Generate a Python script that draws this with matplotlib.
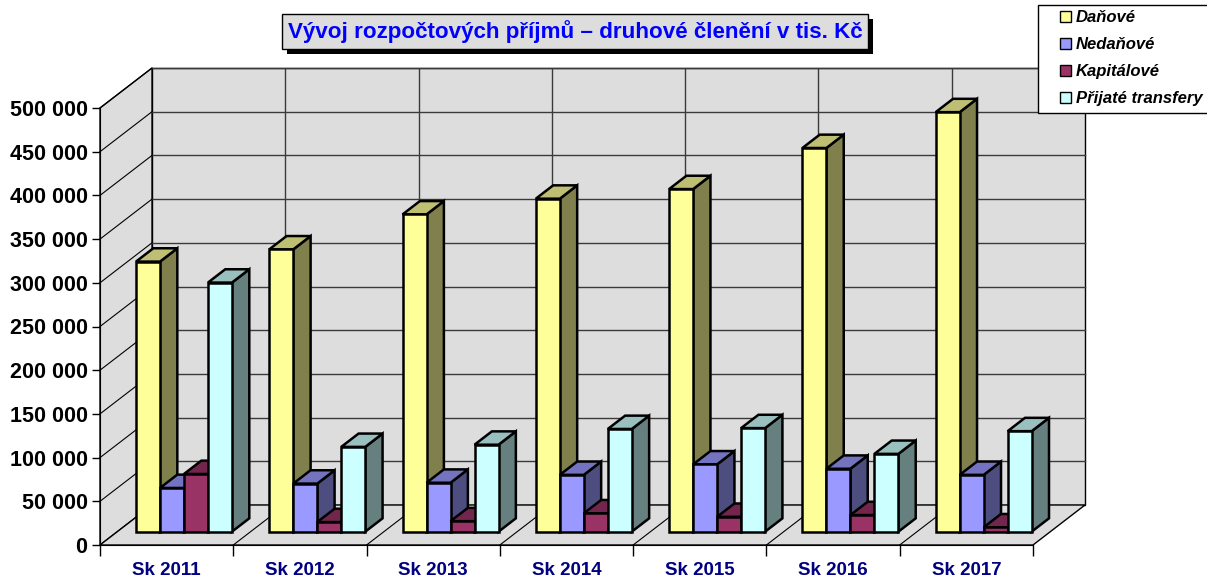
import matplotlib
matplotlib.use('Agg')
import matplotlib.pyplot as plt
from matplotlib.patches import Polygon, Patch, Rectangle
import matplotlib.patheffects as pe
import matplotlib.colors as mcolors

# ---- data ----
categories = ['Sk 2011', 'Sk 2012', 'Sk 2013', 'Sk 2014', 'Sk 2015', 'Sk 2016', 'Sk 2017']
series_names = ['Daňové', 'Nedaňové', 'Kapitálové', 'Přijaté transfery']
danove = [309000, 323000, 363000, 381000, 392000, 439000, 480000]
nedanove = [50000, 55000, 56000, 65000, 77000, 72000, 65000]
kapitalove = [66000, 11000, 12000, 21000, 17000, 19000, 5000]
transfery = [285000, 97000, 99500, 117500, 118500, 89000, 115000]
y_ticks = [0, 50000, 100000, 150000, 200000, 250000, 300000, 350000, 400000, 450000, 500000]
title = 'Vývoj rozpočtových příjmů – druhové členění v tis. Kč'

series = [danove, nedanove, kapitalove, transfery]
front_colors = ['#FFFF99', '#9999FF', '#993366', '#CCFFFF']

plt.rcParams['font.family'] = ['Liberation Sans', 'DejaVu Sans']


def shade(c, f):
    r, g, b = mcolors.to_rgb(c)
    return (r * f, g * f, b * f)


W, H = 1207, 580
fig = plt.figure(figsize=(W / 100, H / 100), dpi=100)

n = len(categories)
ymax = y_ticks[-1]
front_w_px = 933.0
front_h_px = 437.0
depth_dx_px, depth_dy_px = 52.0, 40.0
ax = fig.add_axes([100 / W, (H - 545) / H, (front_w_px + depth_dx_px) / W,
                   (front_h_px + depth_dy_px) / H])
px_per_cat = front_w_px / n
px_per_val = front_h_px / ymax
ddx = depth_dx_px / px_per_cat
ddy = depth_dy_px / px_per_val
ax.set_xlim(0, n + ddx)
ax.set_ylim(0, ymax + ddy)
ax.patch.set_visible(False)

grey = '#DDDDDD'
wall_kw = dict(fc=grey, ec='black', lw=1.0, zorder=0.5, clip_on=False)
ax.add_patch(Polygon([(ddx, ddy), (n + ddx, ddy), (n + ddx, ymax + ddy), (ddx, ymax + ddy)], **wall_kw))
ax.add_patch(Polygon([(0, 0), (ddx, ddy), (ddx, ymax + ddy), (0, ymax)], **wall_kw))
ax.add_patch(Polygon([(0, 0), (n, 0), (n + ddx, ddy), (ddx, ddy)], **wall_kw))

for v in y_ticks[1:]:
    ax.plot([ddx, n + ddx], [v + ddy, v + ddy], color='#3a3a3a', lw=1.0, zorder=0.6, clip_on=False)
    ax.plot([0, ddx], [v, v + ddy], color='black', lw=0.8, zorder=0.6, clip_on=False)
for k in range(1, n):
    ax.plot([k + ddx, k + ddx], [ddy, ymax + ddy], color='#3a3a3a', lw=1.0, zorder=0.6)
    ax.plot([k, k + ddx], [0, ddy], color='black', lw=0.8, zorder=0.6)

# ---- bars ----
group = 0.72
bw = group / len(series)
off = (1 - group) / 2
b = ddy / 3
sx, sy = ddx / 3, ddy / 3
z = 2
for i in range(n):
    for j, vals in enumerate(series):
        c = front_colors[j]
        v = vals[i]
        x0 = i + off + j * bw + sx
        ax.add_patch(Polygon([(x0 + bw, b), (x0 + bw + sx, b + sy), (x0 + bw + sx, b + v + sy), (x0 + bw, b + v)],
                             fc=shade(c, 0.5), ec='black', lw=1.8, joinstyle='miter', zorder=z))
        ax.add_patch(Polygon([(x0, b + v), (x0 + bw, b + v), (x0 + bw + sx, b + v + sy), (x0 + sx, b + v + sy)],
                             fc=shade(c, 0.75), ec='black', lw=1.8, joinstyle='miter', zorder=z + 0.1))
        ax.bar(x0, v, width=bw, bottom=b, align='edge', color=c, edgecolor='black', linewidth=1.8, zorder=z + 0.2)
        z += 1

# ---- axes ----
for s in ['top', 'right']:
    ax.spines[s].set_visible(False)
ax.spines['left'].set_bounds(0, ymax)
ax.spines['bottom'].set_bounds(0, n)
ax.spines['left'].set_zorder(1)
ax.spines['bottom'].set_zorder(1)
ax.set_yticks(y_ticks)
ax.set_yticklabels([f'{v:,}'.replace(',', ' ') for v in y_ticks], fontsize=15.5, fontweight='bold')
ax.tick_params(axis='y', direction='out', length=6, width=1, pad=3)
ax.set_xticks(range(n + 1))
ax.set_xticklabels([])
ax.tick_params(axis='x', which='major', direction='out', length=8, width=1)
ax.set_xticks([i + 0.5 for i in range(n)], minor=True)
ax.set_xticklabels(categories, minor=True, fontsize=13.5, fontweight='bold', color='#000080')
ax.tick_params(axis='x', which='minor', length=0, pad=12)

# ---- title ----
t = fig.text(575 / W, 1 - 31.5 / H, title, ha='center', va='center', fontsize=16.1, fontweight='bold',
             color='#0000FF', bbox=dict(boxstyle='square,pad=0.27', fc=grey, ec='black', lw=1))
t.get_bbox_patch().set_path_effects([pe.withSimplePatchShadow(offset=(3.5, -3.5), shadow_rgbFace='black', alpha=1)])

# ---- legend ----
fig.patches.append(Rectangle((1038 / W, 1 - 113 / H), (1215 - 1038) / W, (113 - 5) / H,
                             transform=fig.transFigure, fc='white', ec='black', lw=1, zorder=5))
handles = [Patch(fc=c, ec='black', lw=1) for c in front_colors]
leg = fig.legend(handles, series_names, loc='upper left', bbox_to_anchor=(1055 / W, 1 - 5 / H),
                 prop=dict(weight='bold', style='italic', size=12), frameon=False,
                 handlelength=0.65, handleheight=0.65, handletextpad=0.3,
                 labelspacing=0.72, borderpad=0.3, borderaxespad=0.0)
leg.set_zorder(6)

fig.savefig('out.png', dpi=100)
